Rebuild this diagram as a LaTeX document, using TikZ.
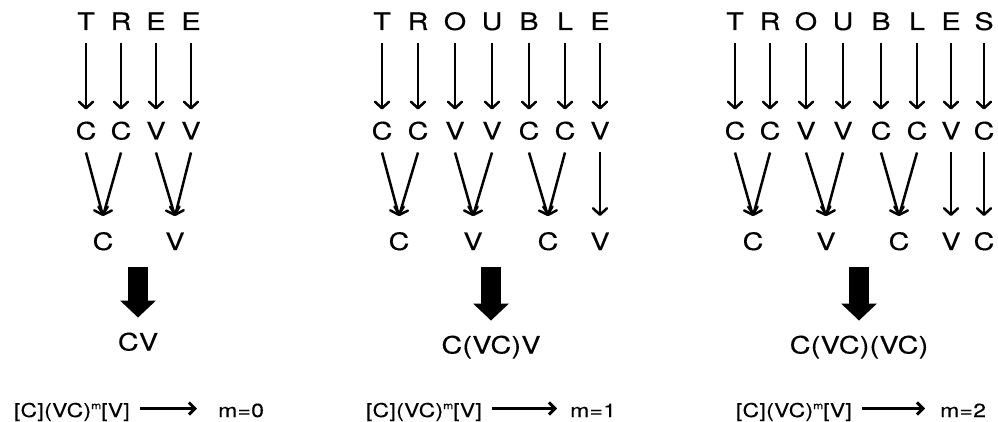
\documentclass[tikz,border=0pt]{standalone}
\usepackage{fontspec}
\setmainfont{TeX Gyre Heros}[FakeStretch=1.2, FakeBold=0.3]
\newfontfamily\wordfont{TeX Gyre Heros}[FakeStretch=1.2, FakeBold=0.3, LetterSpace=1]
\newfontfamily\formfont{TeX Gyre Heros}[FakeStretch=1.2, FakeBold=0.3, LetterSpace=2]
\usetikzlibrary{arrows.meta}

\newcommand{\supscr}[1]{\raisebox{8pt}{\fontsize{10}{10}\selectfont #1}}

\begin{document}
\begin{tikzpicture}[x=1pt, y=-1pt,
    letter/.style={font=\fontsize{24}{24}\selectfont, inner sep=0pt,
      text height=17pt, text depth=0pt, outer ysep=13pt},
    merged/.style={letter, outer ysep=17pt},
    result/.style={font=\wordfont\fontsize{24}{24}\selectfont, inner sep=0pt,
      text height=17pt, text depth=0pt, outer ysep=16pt},
    formula/.style={font=\formfont\fontsize{19}{19}\selectfont, inner sep=0pt,
      text height=17pt, text depth=0pt},
    onearrow/.style={line width=2.5pt, -{Straight Barb[length=6.5pt,width=14pt,round]}},
    bigarrow/.style={line width=20pt, -{Triangle[length=17pt,width=36pt,line width=0pt]}},
    formarrow/.style={line width=3pt, -{Straight Barb[length=6pt,width=12pt]},
      shorten <=10pt}]
  \fill[white, use as bounding box] (0,0) rectangle (998,422);

  % TREE
  \node[letter] (t1-1) at (86,21.5) {T};
  \node[letter] (t1-2) at (121,21.5) {R};
  \node[letter] (t1-3) at (156,21.5) {E};
  \node[letter] (t1-4) at (191,21.5) {E};
  \node[letter] (s1-1) at (86,131) {C};
  \node[letter] (s1-2) at (121,131) {C};
  \node[letter] (s1-3) at (156,131) {V};
  \node[letter] (s1-4) at (191,131) {V};
  \node[merged] (m1-1) at (103,241.5) {C};
  \node[merged] (m1-2) at (175,241.5) {V};
  \node[result] (r1) at (138,342) {CV};
  \node[formula, anchor=base east] (f1) at (130,417) {[C](VC)\supscr{m}[V]};
  \node[formula, anchor=base west] (v1) at (218,417) {m=0};

  \draw[onearrow] (t1-1.south) -- (s1-1.north);
  \draw[onearrow] (t1-2.south) -- (s1-2.north);
  \draw[onearrow] (t1-3.south) -- (s1-3.north);
  \draw[onearrow] (t1-4.south) -- (s1-4.north);
  \draw[onearrow] (s1-1.south) -- (m1-1.north);
  \draw[onearrow] (s1-2.south) -- (m1-1.north);
  \draw[onearrow] (s1-3.south) -- (m1-2.north);
  \draw[onearrow] (s1-4.south) -- (m1-2.north);
  \draw[bigarrow] (r1.north |- m1-1.south) -- (r1.north);
  \draw[formarrow, shorten >=21pt] (f1.east) -- (v1.west);

  % TROUBLE
  \node[letter] (t2-1) at (382,21.5) {T};
  \node[letter] (t2-2) at (418,21.5) {R};
  \node[letter] (t2-3) at (455,21.5) {O};
  \node[letter] (t2-4) at (492,21.5) {U};
  \node[letter] (t2-5) at (529,21.5) {B};
  \node[letter] (t2-6) at (565,21.5) {L};
  \node[letter] (t2-7) at (600,21.5) {E};
  \node[letter] (s2-1) at (382,131) {C};
  \node[letter] (s2-2) at (418,131) {C};
  \node[letter] (s2-3) at (455,131) {V};
  \node[letter] (s2-4) at (492,131) {V};
  \node[letter] (s2-5) at (529,131) {C};
  \node[letter] (s2-6) at (565,131) {C};
  \node[letter] (s2-7) at (600,131) {V};
  \node[merged] (m2-1) at (399,241.5) {C};
  \node[merged] (m2-2) at (473,241.5) {V};
  \node[merged] (m2-3) at (548,241.5) {C};
  \node[merged] (m2-4) at (600,241.5) {V};
  \node[result] (r2) at (491,345) {C(VC)V};
  \node[formula, anchor=base east] (f2) at (482,417) {[C](VC)\supscr{m}[V]};
  \node[formula, anchor=base west] (v2) at (570,417) {m=1};

  \draw[onearrow] (t2-1.south) -- (s2-1.north);
  \draw[onearrow] (t2-2.south) -- (s2-2.north);
  \draw[onearrow] (t2-3.south) -- (s2-3.north);
  \draw[onearrow] (t2-4.south) -- (s2-4.north);
  \draw[onearrow] (t2-5.south) -- (s2-5.north);
  \draw[onearrow] (t2-6.south) -- (s2-6.north);
  \draw[onearrow] (t2-7.south) -- (s2-7.north);
  \draw[onearrow] (s2-1.south) -- (m2-1.north);
  \draw[onearrow] (s2-2.south) -- (m2-1.north);
  \draw[onearrow] (s2-3.south) -- (m2-2.north);
  \draw[onearrow] (s2-4.south) -- (m2-2.north);
  \draw[onearrow] (s2-5.south) -- (m2-3.north);
  \draw[onearrow] (s2-6.south) -- (m2-3.north);
  \draw[onearrow] (s2-7.south) -- (m2-4.north);
  \draw[bigarrow] (r2.north |- m2-1.south) -- (r2.north);
  \draw[formarrow, shorten >=13pt] (f2.east) -- (v2.west);

  % TROUBLES
  \node[letter] (t3-1) at (735,21.5) {T};
  \node[letter] (t3-2) at (770,21.5) {R};
  \node[letter] (t3-3) at (806,21.5) {O};
  \node[letter] (t3-4) at (843,21.5) {U};
  \node[letter] (t3-5) at (881,21.5) {B};
  \node[letter] (t3-6) at (917,21.5) {L};
  \node[letter] (t3-7) at (951,21.5) {E};
  \node[letter] (t3-8) at (984,21.5) {S};
  \node[letter] (s3-1) at (735,131) {C};
  \node[letter] (s3-2) at (770,131) {C};
  \node[letter] (s3-3) at (806,131) {V};
  \node[letter] (s3-4) at (843,131) {V};
  \node[letter] (s3-5) at (881,131) {C};
  \node[letter] (s3-6) at (917,131) {C};
  \node[letter] (s3-7) at (951,131) {V};
  \node[letter] (s3-8) at (984,131) {C};
  \node[merged] (m3-1) at (753,241.5) {C};
  \node[merged] (m3-2) at (826,241.5) {V};
  \node[merged] (m3-3) at (899,241.5) {C};
  \node[merged] (m3-4) at (951,241.5) {V};
  \node[merged] (m3-5) at (984,241.5) {C};
  \node[result] (r3) at (859,345) {C(VC)(VC)};
  \node[formula, anchor=base east] (f3) at (852,417) {[C](VC)\supscr{m}[V]};
  \node[formula, anchor=base west] (v3) at (940,417) {m=2};

  \draw[onearrow] (t3-1.south) -- (s3-1.north);
  \draw[onearrow] (t3-2.south) -- (s3-2.north);
  \draw[onearrow] (t3-3.south) -- (s3-3.north);
  \draw[onearrow] (t3-4.south) -- (s3-4.north);
  \draw[onearrow] (t3-5.south) -- (s3-5.north);
  \draw[onearrow] (t3-6.south) -- (s3-6.north);
  \draw[onearrow] (t3-7.south) -- (s3-7.north);
  \draw[onearrow] (t3-8.south) -- (s3-8.north);
  \draw[onearrow] (s3-1.south) -- (m3-1.north);
  \draw[onearrow] (s3-2.south) -- (m3-1.north);
  \draw[onearrow] (s3-3.south) -- (m3-2.north);
  \draw[onearrow] (s3-4.south) -- (m3-2.north);
  \draw[onearrow] (s3-5.south) -- (m3-3.north);
  \draw[onearrow] (s3-6.south) -- (m3-3.north);
  \draw[onearrow] (s3-7.south) -- (m3-4.north);
  \draw[onearrow] (s3-8.south) -- (m3-5.north);
  \draw[bigarrow] (r3.north |- m3-1.south) -- (r3.north);
  \draw[formarrow, shorten >=15pt] (f3.east) -- (v3.west);
\end{tikzpicture}
\end{document}
